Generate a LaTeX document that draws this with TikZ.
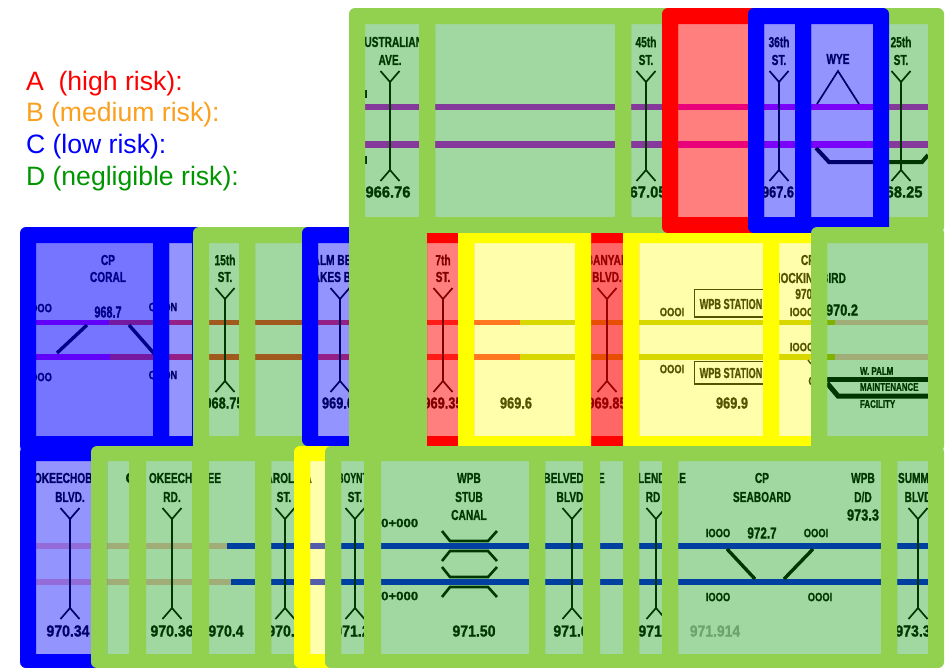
\documentclass[tikz,border=0pt]{standalone}
\usepackage{fontspec}
\usepackage{graphicx}
\setmainfont{Liberation Sans}
\newfontfamily\heavy[UprightFont={* Bold},FakeBold=1.2]{Liberation Sans}
\definecolor{gr}{RGB}{0,150,0}
\definecolor{grbar}{RGB}{146,208,80}
\definecolor{pureY}{RGB}{255,255,0}
\definecolor{trp}{RGB}{211,5,246}
\definecolor{tro}{RGB}{255,55,48}
\definecolor{try}{RGB}{197,197,0}
\definecolor{trk}{RGB}{254,187,190}
\definecolor{trb}{RGB}{0,14,254}
\definecolor{legO}{RGB}{250,160,30}
\definecolor{legG}{RGB}{0,150,0}
\newcounter{labn}
\newcommand{\lbt}[4][.70]{\stepcounter{labn}\node[lbl] (t\thelabn) at (#2,#3) {\fontsize{14.5}{15}\selectfont\heavy\scalebox{#1}[1]{#4}};}
\newcommand{\nmb}[4][.92]{\stepcounter{labn}\node[lbl] (t\thelabn) at (#2,#3) {\fontsize{16}{17}\selectfont\heavy\scalebox{#1}[1]{#4}};}
\newcommand{\mpost}[4][.78]{\stepcounter{labn}\node[lbl] (t\thelabn) at (#2,#3) {\fontsize{12}{13}\selectfont\heavy\scalebox{#1}[1]{#4}};}
\newcommand{\smlab}[3]{\stepcounter{labn}\node[lbl,anchor=west] (t\thelabn) at (#1,#2) {\fontsize{11}{12}\selectfont\heavy\scalebox{.72}[1]{#3}};}
\newcommand{\legd}[3]{\stepcounter{labn}\node[lbl,anchor=west,text=#2] (t\thelabn) at (26,#1) {\fontsize{26.6}{28}\selectfont #3};}
\newcommand{\trk}[5]{\draw[line width=#5,#1] (#2,#4) -- (#3,#4);}
\newcommand{\sigl}[3]{%
  \draw[sigline] ({#1-9.5},#2) -- (#1,{#2+11}) -- ({#1+9.5},#2) (#1,{#2+11}) -- (#1,{#3-11}) ({#1-9.5},#3) -- (#1,{#3-11}) -- ({#1+9.5},#3);}
\newcommand{\frm}[9]{% radius colour alpha x1 x2 y1 ty by y2
  \fill[#2,fill opacity=#3] ({#4+16},#7) rectangle ({#5-16},#8);
  \fill[#2,even odd rule,rounded corners=#1] (#4,#6) rectangle (#5,#9) [sharp corners] ({#4+16},#7) rectangle ({#5-16},#8);}
\newcommand{\rowa}[4]{\frm{6pt}{#1}{#2}{#3}{#4}{8}{24}{217}{233}}
\newcommand{\rowb}[4]{\frm{6pt}{#1}{#2}{#3}{#4}{227}{243}{436}{452}}
\newcommand{\rowy}[4]{\frm{0.01pt}{#1}{#2}{#3}{#4}{233}{243}{436}{446}}
\newcommand{\rowc}[4]{\frm{6pt}{#1}{#2}{#3}{#4}{446}{461}{654}{668}}
\begin{document}
\begin{tikzpicture}[x=1pt,y=-1pt,
  lbl/.style={inner sep=0pt,outer sep=0pt,text=black},
  sigline/.style={line width=1.7pt,black,line join=miter},
  xover/.style={line width=3.4pt,black},
  thin rail/.style={line width=2.6pt,black}]
\useasboundingbox (0,0) rectangle (948,667);
\clip (0,0) rectangle (948,667);
\fill[white] (0,0) rectangle (948,667);

% legend
\legd{84}{red}{A\ \ (high risk):}
\legd{115}{legO}{B (medium risk):}
\legd{147}{blue}{C (low risk):}
\legd{179}{legG}{D (negligible risk):}

% tracks
\trk{trp}{365}{928}{107}{6}
\trk{trp}{365}{928}{144}{7}
\trk{trp}{36}{109}{322.3}{5}
\trk{trp}{36}{110}{357}{6}
\trk{tro}{109}{520}{322.3}{5}
\trk{tro}{110}{520}{357}{6}
\trk{try}{520}{835}{322.3}{5}
\trk{try}{520}{835}{357}{6}
\trk{trk}{835}{928}{322.3}{5}
\trk{trk}{835}{928}{357}{6}
\trk{trk}{36}{227}{546}{5.5}
\trk{trk}{36}{231}{582}{6}
\trk{trb}{227}{928}{546}{5.5}
\trk{trb}{231}{928}{582}{6}

% signals
\foreach \x in {390,646,779,901} {\sigl{\x}{71}{181}}
\foreach \x in {225,340,443,607} {\sigl{\x}{288}{392}}
\foreach \x in {70,172,285,355,572,656,918} {\sigl{\x}{508}{619}}

% top row labels
\lbt{390}{42}{AUSTRALIAN}\lbt{390}{60}{AVE.}\nmb{388}{192}{966.76}
\draw[thin rail] (366,90) -- (366,98) (366,156) -- (366,164);
\lbt{646}{42}{45th}\lbt{646}{60}{ST.}\nmb{644}{192}{967.05}
\lbt{779}{42}{36th}\lbt{779}{60}{ST.}\nmb[.8]{778}{192}{967.6}
\lbt{838}{59}{WYE}
\draw[sigline] (817,104) -- (838,71) -- (859,104);
\draw[xover,line width=4pt] (816,148) -- (829,162) -- (922,162) -- (928,155);
\lbt{901}{42}{25th}\lbt{901}{60}{ST.}\nmb{900}{192}{968.25}

% middle row labels
\lbt{108}{260}{CP}\lbt{108}{277}{CORAL}\nmb[.68]{108}{312}{968.7}
\mpost{41}{308}{OOO}\mpost{41}{377}{OOO}
\mpost{163}{307}{OOON}\mpost{163}{375}{OOON}
\draw[xover] (87,325) -- (57,353) (129,325) -- (158,358);
\lbt{225}{260}{15th}\lbt{225}{277}{ST.}\nmb[.8]{224}{403}{968.75}
\lbt{340}{260}{PALM BEACH}\lbt{340}{277}{LAKES BLVD.}\nmb[.8]{338}{403}{969.0}
\lbt{443}{260}{7th}\lbt{443}{277}{ST.}\nmb[.8]{443}{403}{969.35}
\nmb[.8]{516}{403}{969.6}
\lbt{607}{260}{BANYAN}\lbt{607}{277}{BLVD.}\nmb[.8]{607}{403}{969.85}
\mpost{672}{312}{OOOI}\mpost{672}{369}{OOOI}
\draw[line width=1.6pt,black] (772,289.5) -- (694.5,289.5) -- (694.5,317) -- (772,317);
\draw[line width=1.6pt,black] (772,361.5) -- (694.5,361.5) -- (694.5,384) -- (772,384);
\lbt[.63]{731}{304}{WPB STATION}\lbt[.63]{731}{373}{WPB STATION}
\nmb[.8]{732}{403}{969.9}
\lbt{808}{260}{CP}\lbt{809}{278}{MOCKINGBIRD}\lbt{808}{294}{970.0}
\nmb[.8]{842}{310}{970.2}
\mpost{802}{312}{IOOO}\mpost{802}{347}{IOOO}
\mpost{812}{381}{O}
\draw[line width=1.4pt,black] (808,360) -- (811,364);
\draw[thin rail,line width=5pt] (827,379) -- (928,379);
\draw[thin rail,line width=5pt] (827,383) -- (838,396) -- (928,396);
\smlab{860}{371}{W. PALM}\smlab{860}{387}{MAINTENANCE}\smlab{860}{404}{FACILITY}

% bottom row labels
\lbt{70}{478}{OKEECHOBEE}\lbt{70}{497}{BLVD.}\nmb[.88]{68}{631}{970.34}
\lbt[1]{136}{478}{CD}
\lbt{185}{478}{OKEECHOBEE}\lbt{172}{497}{RD.}\nmb[.88]{172}{631}{970.36}
\nmb[.88]{226}{631}{970.4}
\lbt{285}{478}{CAROLINA}\lbt{284}{497}{ST.}\nmb[.88]{285}{631}{970.0}
\lbt[.6]{359}{478}{BOYNTON}\lbt{355}{497}{ST.}\nmb[.88]{352}{631}{971.2}
\lbt{469}{478}{WPB}\lbt{469}{497}{STUB}\lbt{469}{515}{CANAL}
\mpost[1.1]{396}{523}{00+000}\mpost[1.1]{396}{596}{00+000}
\nmb[.88]{474}{631}{971.50}
\draw[thin rail] (442,531) -- (450,541) -- (488,541) -- (497,531) (442,561) -- (450,551) -- (488,551) -- (497,561);
\draw[thin rail] (442,567) -- (450,577) -- (488,577) -- (497,567) (442,597) -- (450,587) -- (488,587) -- (497,597);
\lbt{574}{478}{BELVEDERE}\lbt{570}{497}{BLVD}\nmb[.88]{571}{631}{971.6}
\lbt{658}{478}{GLENDALE}\lbt{653}{497}{RD}\nmb[.88]{656}{631}{971.8}
\stepcounter{labn}\node[lbl,text=black!32] (t\thelabn) at (715,631) {\fontsize{16}{17}\selectfont\heavy\scalebox{.87}[1]{971.914}};
\lbt{762}{478}{CP}\lbt{762}{497}{SEABOARD}\nmb[.73]{762}{533}{972.7}
\lbt{863}{478}{WPB}\lbt{863}{497}{D/D}\nmb[.8]{863}{515}{973.3}
\mpost{718}{533}{IOOO}\mpost{816}{533}{OOOI}\mpost{718}{597}{IOOO}\mpost{820}{597}{OOOI}
\draw[xover] (727,549) -- (755,579) (813,549) -- (784,579);
\lbt{918}{478}{SUMMIT}\lbt{918}{497}{BLVD}\nmb[.88]{913}{631}{973.3}

% top row frames
\fill[gr,fill opacity=.37] (365,24) rectangle (419,217);
\rowa{grbar}{.0}{349}{435}
\fill[gr,fill opacity=.37] (435,24) rectangle (615,217);
\rowa{grbar}{.0}{419}{631}
\fill[gr,fill opacity=.37] (631,24) rectangle (662,217);
\rowa{grbar}{.0}{615}{678}
\fill[gr,fill opacity=.37] (889,24) rectangle (928,217);
\rowa{grbar}{.0}{873}{944}
\rowa{red}{.5}{662}{764}
\rowa{blue}{.42}{748}{811}
\rowa{blue}{.42}{795}{889}

% middle row frames
\rowb{blue}{.54}{20}{169}
\rowb{blue}{.42}{153}{208}
\fill[gr,fill opacity=.37] (209,243) rectangle (239,436);
\rowb{grbar}{.0}{193}{255}
\fill[gr,fill opacity=.37] (255,243) rectangle (302,436);
\rowb{grbar}{.0}{239}{318}
\frm{6pt}{blue}{.42}{302}{365}{227}{243}{436}{446}
\rowy{red}{.5}{411}{474}
\rowy{red}{.6}{575}{639}
\rowy{pureY}{.33}{458}{591}
\rowy{pureY}{.33}{623}{779}
\rowy{pureY}{.33}{763}{827}
\fill[grbar] (349,217) rectangle (427,461);
\fill[gr,fill opacity=.37] (827,243) rectangle (928,436);
\rowb{grbar}{.0}{811}{944}

% bottom row frames
\rowc{blue}{.42}{20}{107}
\fill[gr,fill opacity=.37] (107,461) rectangle (129,654);
\rowc{grbar}{.0}{91}{145}
\fill[gr,fill opacity=.37] (146,461) rectangle (192,654);
\rowc{grbar}{.0}{130}{208}
\fill[gr,fill opacity=.37] (209,461) rectangle (255,654);
\rowc{grbar}{.0}{193}{271}
\fill[gr,fill opacity=.37] (271,461) rectangle (294,654);
\rowc{grbar}{.0}{255}{310}
\rowc{pureY}{.33}{294}{341}
\fill[gr,fill opacity=.37] (341,461) rectangle (364,654);
\rowc{grbar}{.0}{325}{380}
\fill[gr,fill opacity=.37] (381,461) rectangle (529,654);
\rowc{grbar}{.0}{365}{545}
\fill[gr,fill opacity=.37] (545,461) rectangle (583,654);
\rowc{grbar}{.0}{529}{599}
\fill[gr,fill opacity=.37] (600,461) rectangle (623,654);
\rowc{grbar}{.0}{584}{639}
\fill[gr,fill opacity=.37] (639,461) rectangle (662,654);
\rowc{grbar}{.0}{623}{678}
\fill[gr,fill opacity=.37] (678,461) rectangle (881,654);
\rowc{grbar}{.0}{662}{897}
\fill[gr,fill opacity=.37] (897,461) rectangle (928,654);
\rowc{grbar}{.0}{881}{944}
\end{tikzpicture}
\end{document}
